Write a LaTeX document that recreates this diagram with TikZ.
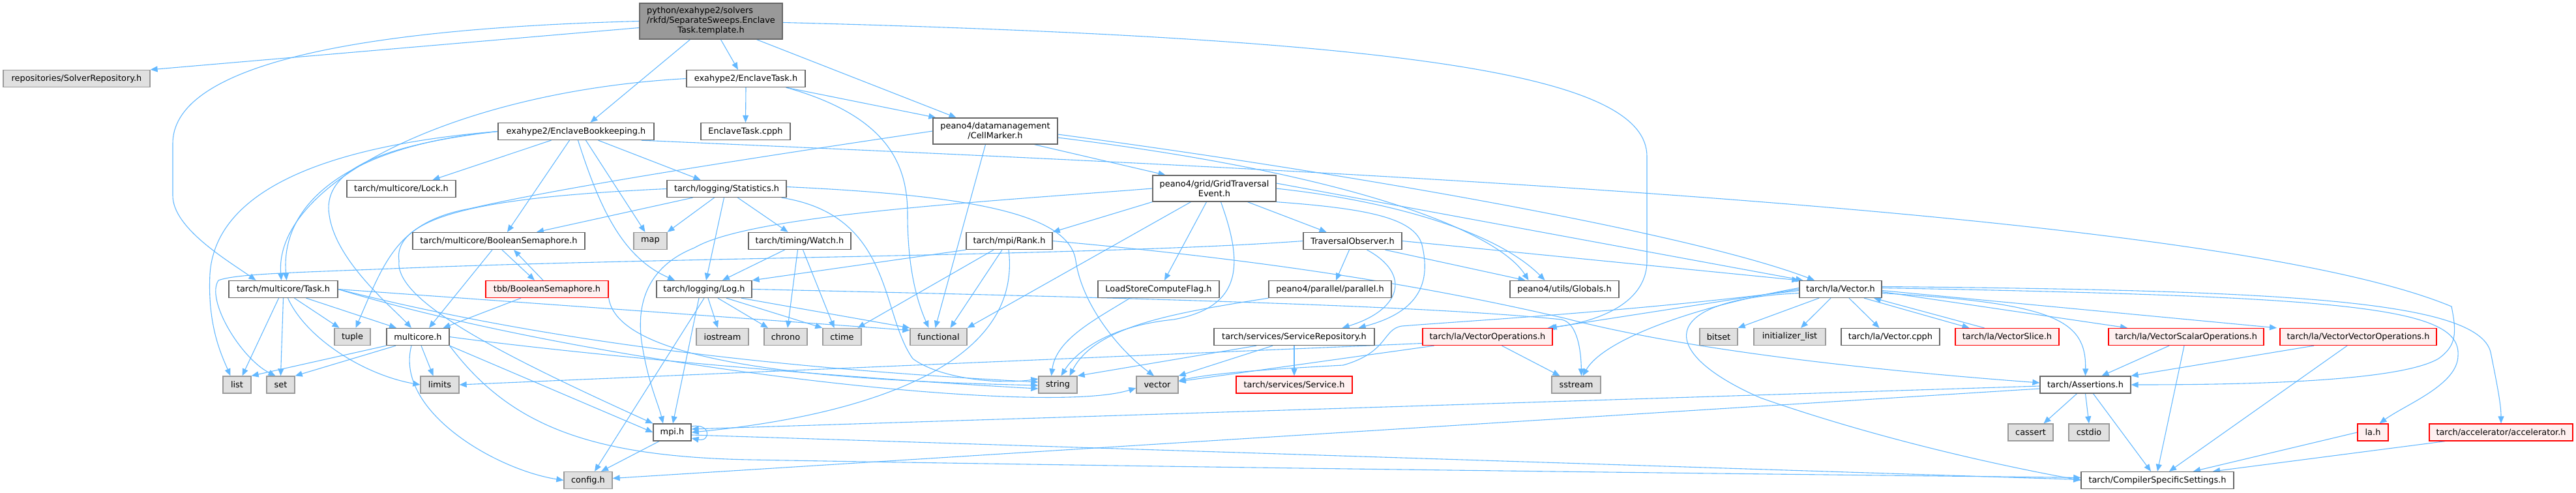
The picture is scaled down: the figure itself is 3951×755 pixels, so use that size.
\documentclass[tikz,border=0pt]{standalone}
\usepackage{fontspec}
\setmainfont{DejaVu Sans}
\usetikzlibrary{arrows.meta, backgrounds}
\definecolor{edgeblue}{HTML}{63B8FF}
\definecolor{boxgrey}{HTML}{666666}
\definecolor{sysfill}{HTML}{E0E0E0}
\definecolor{sysline}{HTML}{999999}
\definecolor{rootfill}{HTML}{999999}
\definecolor{truncfill}{HTML}{FFF0F0}
\definecolor{truncline}{HTML}{FF0000}
\tikzset{
  hdr/.style={draw=boxgrey, fill=white, line width=1.3pt, minimum height=26pt,
    inner sep=0pt, font=\fontsize{12.9}{15}\selectfont, align=center},
  rootbox/.style={hdr, fill=rootfill},
  sysh/.style={hdr, draw=sysline, fill=sysfill},
  trunc/.style={hdr, draw=truncline, fill=truncfill},
  dep/.style={draw=edgeblue, line width=1.1pt, -{Triangle[length=11pt, width=9pt]}}
}
\begin{document}
\begin{tikzpicture}[x=1pt, y=1pt]
\useasboundingbox (0,0) rectangle (3951,-755);

\node[rootbox, minimum width=219pt, minimum height=55pt] (root) at (1090.5,-32.5) {\begin{tabular}{@{}l@{}}python/exahype2/solvers\\/rkfd/SeparateSweeps.Enclave\\\multicolumn{1}{@{}c@{}}{Task.template.h}\end{tabular}};
\node[sysh, minimum width=225pt] (repo) at (117.5,-120.5) {repositories/SolverRepository.h};
\node[hdr, minimum width=182pt] (enclTask) at (1144,-120.5) {exahype2/EnclaveTask.h};
\node[hdr, minimum width=239pt] (bookkeeping) at (883.5,-201.5) {exahype2/EnclaveBookkeeping.h};
\node[hdr, minimum width=137pt] (enclCpph) at (1143.5,-201.5) {EnclaveTask.cpph};
\node[hdr, minimum width=191pt, minimum height=40pt] (cellMarker) at (1526.5,-201) {peano4/datamanagement\\/CellMarker.h};
\node[hdr, minimum width=167pt] (lock) at (615.5,-289.5) {tarch/multicore/Lock.h};
\node[hdr, minimum width=183pt] (statistics) at (1114.5,-289.5) {tarch/logging/Statistics.h};
\node[hdr, minimum width=189pt, minimum height=40pt] (gridEvent) at (1862.5,-289) {peano4/grid/GridTraversal\\Event.h};
\node[hdr, minimum width=264pt] (boolSem) at (765,-369.5) {tarch/multicore/BooleanSemaphore.h};
\node[sysh, minimum width=51pt] (stdMap) at (997.5,-369.5) {map};
\node[hdr, minimum width=157pt] (watch) at (1226.5,-369.5) {tarch/timing/Watch.h};
\node[hdr, minimum width=132pt] (rank) at (1548,-369.5) {tarch/mpi/Rank.h};
\node[hdr, minimum width=151pt] (travObs) at (2074.5,-369.5) {TraversalObserver.h};
\node[hdr, minimum width=167pt] (task) at (434.5,-443.5) {tarch/multicore/Task.h};
\node[trunc, minimum width=188pt] (tbb) at (839,-443.5) {tbb/BooleanSemaphore.h};
\node[hdr, minimum width=146pt] (log) at (1080,-443.5) {tarch/logging/Log.h};
\node[hdr, minimum width=186pt] (loadStore) at (1777,-443.5) {LoadStoreComputeFlag.h};
\node[hdr, minimum width=188pt] (parallel) at (2040,-443.5) {peano4/parallel/parallel.h};
\node[hdr, minimum width=167pt] (globals) at (2399.5,-443.5) {peano4/utils/Globals.h};
\node[hdr, minimum width=126pt] (vectorH) at (2823,-443.5) {tarch/la/Vector.h};
\node[sysh, minimum width=55pt] (stdTuple) at (540.5,-516.5) {tuple};
\node[hdr, minimum width=96pt] (multicore) at (641,-516.5) {multicore.h};
\node[sysh, minimum width=80pt] (stdIostream) at (1108,-516.5) {iostream};
\node[sysh, minimum width=66pt] (stdChrono) at (1205,-516.5) {chrono};
\node[sysh, minimum width=59pt] (stdCtime) at (1291.5,-516.5) {ctime};
\node[sysh, minimum width=87pt] (stdFunctional) at (1439.5,-516.5) {functional};
\node[hdr, minimum width=246pt] (serviceRepo) at (1985,-516.5) {tarch/services/ServiceRepository.h};
\node[trunc, minimum width=199pt] (vecOps) at (2281.5,-516.5) {tarch/la/VectorOperations.h};
\node[sysh, minimum width=58pt] (stdBitset) at (2636,-516.5) {bitset};
\node[sysh, minimum width=110pt] (stdInitList) at (2745,-516.5) {initializer\_list};
\node[hdr, minimum width=151pt] (vecCpph) at (2899.5,-516.5) {tarch/la/Vector.cpph};
\node[trunc, minimum width=159pt] (vecSlice) at (3078.5,-516.5) {tarch/la/VectorSlice.h};
\node[trunc, minimum width=238pt] (vso) at (3353,-516.5) {tarch/la/VectorScalarOperations.h};
\node[trunc, minimum width=240pt] (vvo) at (3617,-516.5) {tarch/la/VectorVectorOperations.h};
\node[sysh, minimum width=43pt] (stdList) at (363.5,-590) {list};
\node[sysh, minimum width=43pt] (stdSet) at (430.5,-590) {set};
\node[sysh, minimum width=59pt] (stdLimits) at (674.5,-590) {limits};
\node[sysh, minimum width=59pt] (stdString) at (1622.5,-590) {string};
\node[sysh, minimum width=64pt] (stdVector) at (1775,-590) {vector};
\node[trunc, minimum width=178pt] (service) at (1985,-590) {tarch/services/Service.h};
\node[sysh, minimum width=75pt] (stdSstream) at (2417.5,-590) {sstream};
\node[hdr, minimum width=139pt] (assertions) at (3198.5,-590) {tarch/Assertions.h};
\node[hdr, minimum width=58pt] (mpi) at (1031,-663) {mpi.h};
\node[sysh, minimum width=69pt] (stdCassert) at (3114.5,-663) {cassert};
\node[sysh, minimum width=62pt] (stdCstdio) at (3204,-663) {cstdio};
\node[trunc, minimum width=47pt] (la) at (3639.5,-663) {la.h};
\node[trunc, minimum width=220pt] (accel) at (3836,-663) {tarch/accelerator/accelerator.h};
\node[sysh, minimum width=74pt] (configH) at (902,-736.5) {config.h};
\node[hdr, minimum width=234pt] (css) at (3309,-736.5) {tarch/CompilerSpecificSettings.h};

\begin{scope}[on background layer]
\draw[dep] ([yshift=-10pt]root.west) -- (repo.north east);
\draw[dep] ([xshift=15pt]root.south) -- ([xshift=-12pt]enclTask.north);
\draw[dep] ([xshift=-32pt]root.south) -- ([xshift=22pt]bookkeeping.north);
\draw[dep] ([xshift=70pt]root.south) -- ([xshift=-60pt]cellMarker.north);
\draw[dep] (root.west) .. controls (500,-45) and (265,-110) .. (265,-220) -- (265,-300) .. controls (265,-350) and (350,-400) .. ([xshift=-42pt]task.north);
\draw[dep] ([yshift=-2pt]root.east) .. controls (2200,-60) and (2526,-120) .. (2526,-240) -- (2526,-400) .. controls (2526,-470) and (2440,-495) .. ([xshift=-8pt]vecOps.north east);

\draw[dep] (enclTask.south) -- (enclCpph.north);
\draw[dep] ([xshift=-30pt]enclTask.south east) -- ([xshift=5pt]cellMarker.north west);
\draw[dep] (enclTask.west) .. controls (700,-140) and (420,-280) .. ([xshift=-3pt]task.north);
\draw[dep] ([xshift=-30pt]enclTask.south east) .. controls (1370,-180) and (1392,-260) .. (1392,-330) .. controls (1392,-420) and (1410,-470) .. ([xshift=-15pt]stdFunctional.north);

\draw[dep] ([xshift=-38pt]bookkeeping.south) -- ([xshift=48pt]lock.north);
\draw[dep] ([xshift=-10pt]bookkeeping.south) -- ([xshift=13pt]boolSem.north);
\draw[dep] ([xshift=34pt]bookkeeping.south) -- ([xshift=-40pt]statistics.north);
\draw[dep] ([xshift=15pt]bookkeeping.south) -- ([xshift=-8pt]stdMap.north);
\draw[dep] ([xshift=3pt]bookkeeping.south) .. controls (920,-320) and (955,-395) .. ([xshift=-45pt]log.north);
\draw[dep] (bookkeeping.west) .. controls (520,-225) and (430,-320) .. ([xshift=5pt]task.north);
\draw[dep] (bookkeeping.west) .. controls (480,-225) and (330,-300) .. (322,-420) .. controls (318,-500) and (340,-545) .. ([xshift=-10pt]stdList.north);
\draw[dep] (bookkeeping.west) .. controls (560,-225) and (495,-270) .. (505,-330) .. controls (515,-400) and (600,-470) .. ([xshift=-10pt]multicore.north);
\draw[dep] ([xshift=-20pt]bookkeeping.south east) .. controls (2000,-260) and (3400,-320) .. (3760,-470) .. controls (3768,-510) and (3768,-530) .. (3740,-550) .. controls (3680,-585) and (3450,-590) .. (assertions.east);

\draw[dep] ([xshift=60pt]cellMarker.south) -- ([xshift=-75pt]gridEvent.north);
\draw[dep] ([xshift=-15pt]cellMarker.south) -- ([xshift=-5pt]stdFunctional.north);
\draw[dep] (cellMarker.west) .. controls (1100,-250) and (850,-290) .. (720,-320) .. controls (610,-340) and (590,-400) .. ([xshift=5pt]stdTuple.north);
\draw[dep] ([yshift=-5pt]cellMarker.east) .. controls (2100,-270) and (2600,-360) .. ([xshift=-40pt]vectorH.north);
\draw[dep] ([yshift=-10pt]cellMarker.east) .. controls (2100,-270) and (2300,-360) .. ([xshift=-55pt]globals.north);

\draw[dep] ([xshift=-52pt]statistics.south) -- ([xshift=58pt]boolSem.north);
\draw[dep] ([xshift=-19pt]statistics.south) -- (stdMap.north east);
\draw[dep] ([xshift=-4pt]statistics.south) -- ([xshift=3pt]log.north);
\draw[dep] ([xshift=17pt]statistics.south) -- ([xshift=-18pt]watch.north);
\draw[dep] ([xshift=-8pt]statistics.south east) .. controls (1370,-330) and (1350,-480) .. (1400,-550) .. controls (1440,-580) and (1530,-590) .. ([yshift=9pt]stdString.west);
\draw[dep] ([yshift=3pt]statistics.east) .. controls (1500,-300) and (1640,-330) .. (1650,-400) .. controls (1660,-470) and (1720,-540) .. ([xshift=-5pt]stdVector.north);
\draw[dep] (statistics.west) .. controls (800,-300) and (600,-320) .. (612,-400) .. controls (605,-460) and (760,-540) .. (mpi.north west);

\draw[dep] (gridEvent.south west) -- (rank.north east);
\draw[dep] ([xshift=-36pt]gridEvent.south) -- (stdFunctional.north east);
\draw[dep] ([xshift=-12pt]gridEvent.south) -- ([xshift=9pt]loadStore.north);
\draw[dep] ([xshift=10pt]gridEvent.south) .. controls (1905,-400) and (1910,-470) .. (1800,-490) .. controls (1700,-500) and (1650,-540) .. ([xshift=5pt]stdString.north);
\draw[dep] (gridEvent.west) .. controls (1500,-310) and (1150,-330) .. (1065,-380) .. controls (990,-410) and (975,-470) .. (985,-530) .. controls (995,-590) and (1010,-620) .. ([xshift=-14pt]mpi.north);
\draw[dep] ([xshift=51pt]gridEvent.south) -- ([xshift=-40pt]travObs.north);
\draw[dep] (gridEvent.east) .. controls (2150,-310) and (2300,-360) .. ([xshift=-30pt]globals.north);
\draw[dep] ([yshift=8pt]gridEvent.east) -- ([xshift=6pt]vectorH.north west);
\draw[dep] (gridEvent.south east) .. controls (2100,-320) and (2175,-335) .. (2182,-380) .. controls (2195,-440) and (2170,-480) .. ([xshift=-25pt]serviceRepo.north east);

\draw[dep] (rank.south west) -- (log.north east);
\draw[dep] ([xshift=-24pt]rank.south) -- ([xshift=24pt]stdCtime.north);
\draw[dep] ([xshift=-11pt]rank.south) -- ([xshift=18pt]stdFunctional.north);
\draw[dep] ([xshift=-1pt]rank.south) .. controls (1570,-570) and (1300,-640) .. (mpi.east);
\draw[dep] (rank.east) .. controls (1900,-395) and (2150,-430) .. (2400,-488) .. controls (2600,-540) and (2900,-570) .. ([yshift=3pt]assertions.west);

\draw[dep] (travObs.west) .. controls (1700,-392) and (1000,-395) .. (600,-412) .. controls (450,-418) and (360,-420) .. (335,-430) .. controls (315,-460) and (370,-550) .. ([xshift=-8pt]stdSet.north);
\draw[dep] ([xshift=-5pt]travObs.south) -- ([xshift=9pt]parallel.north);
\draw[dep] ([xshift=50pt]travObs.south) -- ([xshift=-60pt]globals.north);
\draw[dep] (travObs.east) -- (vectorH.north west);
\draw[dep] ([xshift=22pt]travObs.south) .. controls (2165,-420) and (2150,-475) .. ([xshift=-50pt]serviceRepo.north east);

\draw[dep] ([xshift=-7pt]task.south) -- ([xshift=8pt]stdList.north);
\draw[dep] (task.south) -- (stdSet.north);
\draw[dep] ([xshift=17pt]task.south) -- ([xshift=-20pt]stdTuple.north);
\draw[dep] ([xshift=35pt]task.south) -- ([xshift=-33pt]multicore.north);
\draw[dep] ([xshift=7pt]task.south) .. controls (470,-520) and (560,-575) .. (stdLimits.west);
\draw[dep] (task.east) -- ([yshift=10pt]stdFunctional.west);
\draw[dep] (task.east) .. controls (900,-540) and (1300,-570) .. ([yshift=4pt]stdString.west);
\draw[dep] (task.east) .. controls (900,-560) and (1600,-640) .. ([yshift=-5pt]stdVector.west);

\draw[dep] (multicore.south west) -- (stdList.north east);
\draw[dep] ([xshift=-34pt]multicore.south) -- (stdSet.north east);
\draw[dep] ([xshift=5pt]multicore.south) -- ([xshift=-10pt]stdLimits.north);
\draw[dep] ([xshift=-10pt]multicore.south) .. controls (605,-630) and (760,-720) .. (configH.west);
\draw[dep] (multicore.south east) -- (mpi.west);
\draw[dep] (multicore.south east) .. controls (780,-650) and (900,-700) .. (1150,-705) .. controls (2000,-720) and (3000,-730) .. ([yshift=4pt]css.west);
\draw[dep] (multicore.east) .. controls (900,-545) and (1300,-580) .. ([yshift=-6pt]stdString.west);

\draw[dep] ([xshift=5pt]boolSem.south) -- ([xshift=-19pt]tbb.north);
\draw[dep] ([xshift=-6pt]tbb.north) -- ([xshift=23pt]boolSem.south);
\draw[dep] ([xshift=-10pt]boolSem.south) -- ([xshift=17pt]multicore.north);
\draw[dep] ([xshift=-40pt]tbb.south) -- ([xshift=-10pt]multicore.north east);
\draw[dep] (tbb.south east) .. controls (950,-570) and (1350,-585) .. ([yshift=-1pt]stdString.west);

\draw[dep] ([xshift=6pt]log.south) -- ([xshift=-7pt]stdIostream.north);
\draw[dep] ([xshift=21pt]log.south) -- ([xshift=-27pt]stdChrono.north);
\draw[dep] ([xshift=34pt]log.south) -- (stdCtime.north west);
\draw[dep] ([xshift=57pt]log.south) -- (stdFunctional.north west);
\draw[dep] ([xshift=-8pt]log.south) -- ([xshift=1pt]mpi.north);
\draw[dep] (log.south) -- ([xshift=10pt]configH.north);
\draw[dep] (log.east) .. controls (1800,-458) and (2200,-470) .. (2395,-490) .. controls (2420,-495) and (2425,-540) .. ([xshift=8pt]stdSstream.north);

\draw[dep] ([xshift=-23pt]watch.south) -- ([xshift=28pt]log.north);
\draw[dep] ([xshift=-3pt]watch.south) -- ([xshift=3pt]stdChrono.north);
\draw[dep] ([xshift=5pt]watch.south) -- ([xshift=-12pt]stdCtime.north);

\draw[dep] ([xshift=-44pt]loadStore.south) .. controls (1680,-490) and (1620,-520) .. ([xshift=-10pt]stdString.north);
\draw[dep] (parallel.south west) .. controls (1800,-480) and (1680,-500) .. ([xshift=18pt]stdString.north);
\draw[dep] ([xshift=-58pt]serviceRepo.south) -- (stdString.north east);
\draw[dep] ([xshift=-33pt]serviceRepo.south) -- (stdVector.north east);
\draw[dep] (serviceRepo.south) -- (service.north);

\draw[dep] ([xshift=-82pt]vecOps.south) -- ([yshift=5pt]stdVector.east);
\draw[dep] ([xshift=22pt]vecOps.south) -- ([xshift=-25pt]stdSstream.north);
\draw[dep] ([yshift=-10pt]vecOps.west) -- (stdLimits.east);

\draw[dep] ([xshift=-33pt]vectorH.south) -- (stdBitset.north east);
\draw[dep] ([xshift=-15pt]vectorH.south) -- ([xshift=17pt]stdInitList.north);
\draw[dep] ([xshift=13pt]vectorH.south) -- ([xshift=-17pt]vecCpph.north);
\draw[dep] ([xshift=36pt]vectorH.south) -- ([xshift=-58pt]vecSlice.north);
\draw[dep] ([xshift=-35pt]vecSlice.north) -- ([xshift=51pt]vectorH.south);
\draw[dep] ([yshift=-4pt]vectorH.east) -- ([xshift=-90pt]vso.north);
\draw[dep] ([yshift=-2pt]vectorH.east) -- ([xshift=-125pt]vvo.north);
\draw[dep] ([yshift=2pt]vectorH.east) .. controls (3600,-455) and (3775,-470) .. (3770,-545) .. controls (3770,-590) and (3690,-620) .. ([xshift=10pt]la.north);
\draw[dep] ([yshift=4pt]vectorH.east) .. controls (3500,-445) and (3800,-460) .. (3820,-540) .. controls (3830,-590) and (3836,-620) .. (accel.north);
\draw[dep] ([yshift=-6pt]vectorH.east) .. controls (3150,-465) and (3200,-490) .. (assertions.north);
\draw[dep] ([yshift=-6pt]vectorH.west) .. controls (2540,-460) and (2540,-540) .. (2700,-610) .. controls (2900,-680) and (3100,-720) .. (css.west);
\draw[dep] ([yshift=-2pt]vectorH.west) .. controls (2500,-478) and (2250,-492) .. (2150,-500) .. controls (2120,-505) and (2130,-540) .. (2060,-560) .. controls (1950,-566) and (1860,-572) .. ([yshift=6pt]stdVector.east);
\draw[dep] ([yshift=2pt]vectorH.west) .. controls (2600,-470) and (2460,-520) .. ([xshift=10pt]stdSstream.north);
\draw[dep] (vectorH.west) -- ([xshift=-5pt]vecOps.north east);

\draw[dep] ([xshift=-26pt]vso.south) -- ([xshift=25pt]assertions.north);
\draw[dep] ([xshift=-3pt]vso.south) -- (css.north);
\draw[dep] ([xshift=-68pt]vvo.south) -- (assertions.north east);
\draw[dep] ([xshift=-17pt]vvo.south) -- ([xshift=18pt]css.north);
\draw[dep] (la.west) -- ([xshift=55pt]css.north);
\draw[dep] ([xshift=-86pt]accel.south) -- ([xshift=85pt]css.north);

\draw[dep] ([xshift=-13pt]assertions.south) -- ([xshift=20pt]stdCassert.north);
\draw[dep] (assertions.south) -- (stdCstdio.north);
\draw[dep] ([xshift=12pt]assertions.south) -- ([xshift=-10pt]css.north);
\draw[dep] ([yshift=-2pt]assertions.west) -- ([yshift=5pt]mpi.east);
\draw[dep] ([yshift=-6pt]assertions.west) -- ([yshift=3pt]configH.east);

\draw[dep] ([xshift=-20pt]mpi.south) -- ([xshift=20pt]configH.north);
\draw[dep] ([yshift=-4pt]mpi.east) -- ([yshift=1pt]css.west);
\draw[dep] ([yshift=9pt]mpi.east) .. controls +(30,6) and +(30,-6) .. ([yshift=-9pt]mpi.east);
\end{scope}
\end{tikzpicture}
\end{document}
